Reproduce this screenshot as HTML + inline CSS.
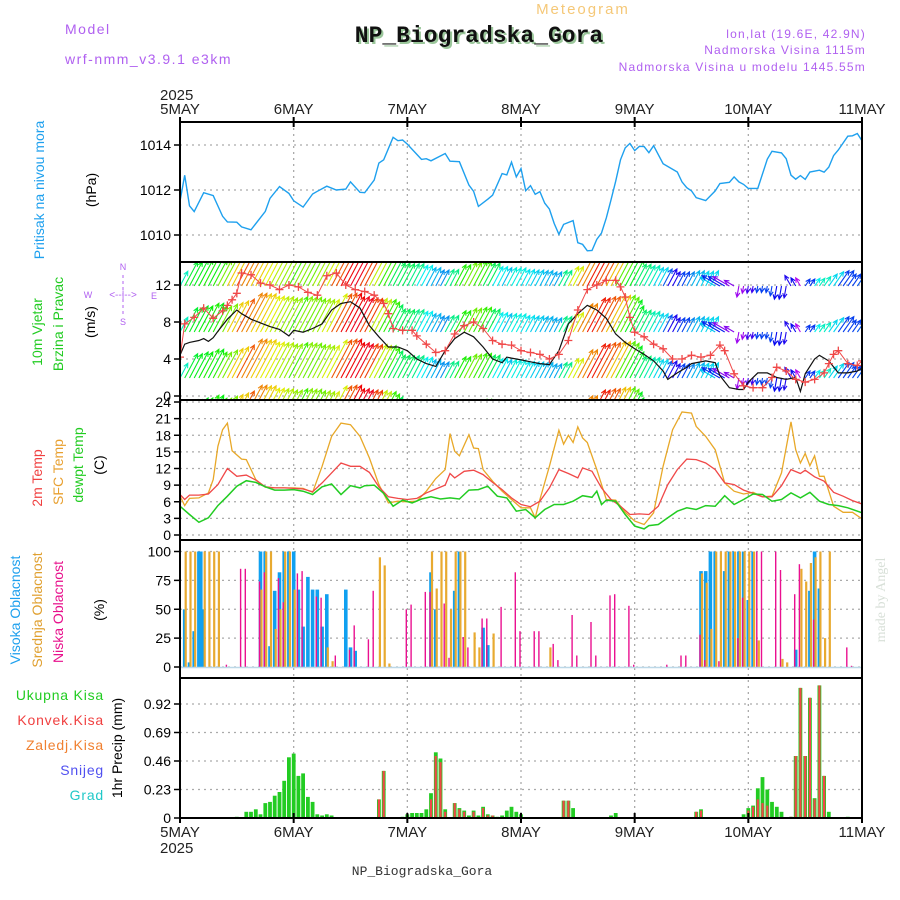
<!DOCTYPE html>
<html><head><meta charset="utf-8"><style>
body{margin:0;background:#fff;width:900px;height:900px;overflow:hidden}
svg{display:block}
text{font-family:"Liberation Sans",sans-serif}
</style></head><body>
<svg id="chart" width="900" height="900" viewBox="0 0 900 900" xmlns="http://www.w3.org/2000/svg">
<g>
<text x="65" y="34" font-size="14" fill="#b060f0" letter-spacing="1.5">Model</text>
<text x="65" y="64" font-size="14" fill="#b060f0" letter-spacing="1.5">wrf-nmm_v3.9.1 e3km</text>
<text x="583" y="14" font-size="15" fill="#f5c878" text-anchor="middle" letter-spacing="2">Meteogram</text>
<text x="481" y="44" font-size="23" font-weight="bold" fill="#9bc79b" text-anchor="middle" style="font-family:'Liberation Mono',monospace">NP_Biogradska_Gora</text>
<text x="479" y="42" font-size="23" font-weight="bold" fill="#111" text-anchor="middle" style="font-family:'Liberation Mono',monospace">NP_Biogradska_Gora</text>
<text x="866" y="38" font-size="12" fill="#b060f0" text-anchor="end" letter-spacing="1.2">lon,lat (19.6E, 42.9N)</text>
<text x="866" y="54" font-size="12" fill="#b060f0" text-anchor="end" letter-spacing="1.2">Nadmorska Visina 1115m</text>
<text x="866" y="71" font-size="12" fill="#b060f0" text-anchor="end" letter-spacing="1.2">Nadmorska Visina u modelu 1445.55m</text>
</g>
<g id="grid"></g>
<g id="marks"></g>
<g id="frames"></g>
<g id="labels">
<text transform="translate(44,190) rotate(-90)" font-size="14" fill="#1ea0ee" text-anchor="middle">Pritisak na nivou mora</text>
<text transform="translate(96,190) rotate(-90)" font-size="14" fill="#000" text-anchor="middle">(hPa)</text>
<text transform="translate(42,332) rotate(-90)" font-size="14" fill="#22cc22" text-anchor="middle">10m Vjetar</text>
<text transform="translate(63,324) rotate(-90)" font-size="14" fill="#22cc22" text-anchor="middle">Brzina i Pravac</text>
<text transform="translate(95,322) rotate(-90)" font-size="14" fill="#000" text-anchor="middle">(m/s)</text>
<g fill="#b060f0" font-size="9" text-anchor="middle">
<text x="123" y="270">N</text><text x="123" y="325">S</text><text x="88" y="298">W</text><text x="154" y="299">E</text>
<text x="123" y="298" font-size="10">&lt;--|--&gt;</text>
<line x1="123" y1="275" x2="123" y2="316" stroke="#b060f0" stroke-dasharray="3,3"/>
</g>
<text transform="translate(42,478) rotate(-90)" font-size="14" fill="#f04040" text-anchor="middle">2m Temp</text>
<text transform="translate(63,472) rotate(-90)" font-size="14" fill="#e8a030" text-anchor="middle">SFC Temp</text>
<text transform="translate(83,465) rotate(-90)" font-size="14" fill="#22cc22" text-anchor="middle">dewpt Temp</text>
<text transform="translate(104,465) rotate(-90)" font-size="14" fill="#000" text-anchor="middle">(C)</text>
<text transform="translate(20,610) rotate(-90)" font-size="14" fill="#1ea0ee" text-anchor="middle">Visoka Oblacnost</text>
<text transform="translate(42,610) rotate(-90)" font-size="14" fill="#e0a030" text-anchor="middle">Srednja Oblacnost</text>
<text transform="translate(63,612) rotate(-90)" font-size="14" fill="#e8108c" text-anchor="middle">Niska Oblacnost</text>
<text transform="translate(104,610) rotate(-90)" font-size="14" fill="#000" text-anchor="middle">(%)</text>
<text transform="translate(885,600) rotate(-90)" font-size="14" fill="#d8e0d8" text-anchor="middle" style="font-family:'Liberation Serif',serif">made by Angel</text>
<g font-size="14" text-anchor="end" letter-spacing="0.8">
<text x="104" y="700" fill="#22cc22">Ukupna Kisa</text>
<text x="104" y="725" fill="#f04040">Konvek.Kisa</text>
<text x="104" y="750" fill="#f08030">Zaledj.Kisa</text>
<text x="104" y="775" fill="#5050f0">Snijeg</text>
<text x="104" y="800" fill="#20c8c8">Grad</text>
</g>
<text transform="translate(122,748) rotate(-90)" font-size="14" fill="#000" text-anchor="middle">1hr Precip (mm)</text>
<text x="160" y="100" font-size="15" fill="#222">2025</text>
<text x="160" y="853" font-size="15" fill="#222">2025</text>
<text x="422" y="875" font-size="13" fill="#333" text-anchor="middle" style="font-family:'Liberation Mono',monospace">NP_Biogradska_Gora</text>
</g>
</svg>
<script>
// ---- data ----
const dayLabels=["5MAY","6MAY","7MAY","8MAY","9MAY","10MAY","11MAY"];
const pressTicks=[1010,1012,1014];
const windTicks=[0,4,8,12];
const tempTicks=[0,3,6,9,12,15,18,21,24];
const cloudTicks=[0,25,50,75,100];
const precipTicks=[0,0.23,0.46,0.69,0.92];

const pressHours=[0,1,2,3,5,7,9,10,12,13,15,18,19,21,23,24,26,28,29,31,33,35,36,38,39,41,42,43,45,46,47,48,51,52,53,56,57,59,61,62,63,65,66,68,69,70,71,72,73,74,75,76,77,78,79,80,81,83,84,85,86,87,88,89,90,91,92,93,94,95,96,97,98,99,100,102,105,106,107,108,109,111,113,114,116,117,118,119,120,122,124,125,127,128,129,130,131,132,133,135,136,137,138,139,141,142,143,144];
const pressVals=[1011.5,1012.66,1011.3,1011.04,1011.88,1011.75,1010.83,1010.58,1010.57,1010.36,1010.23,1011.05,1011.63,1012.15,1011.85,1011.52,1011.24,1011.82,1011.94,1012.17,1012.0,1012.04,1012.36,1011.9,1011.88,1012.44,1013.2,1013.34,1014.34,1014.19,1014.22,1014.04,1013.36,1013.39,1013.3,1013.62,1013.28,1013.26,1012.22,1011.94,1011.27,1011.59,1011.77,1012.73,1012.67,1013.24,1012.58,1012.95,1011.97,1012.19,1011.81,1011.93,1011.42,1011.15,1010.51,1010.03,1010.47,1010.64,1009.66,1009.58,1009.3,1009.31,1009.81,1010.09,1010.76,1011.56,1012.39,1013.34,1013.87,1014.07,1013.75,1013.94,1013.93,1013.66,1013.97,1013.17,1012.8,1012.36,1012.1,1011.96,1011.66,1011.53,1011.96,1012.29,1012.34,1012.58,1012.36,1012.25,1012.07,1012.07,1013.37,1013.72,1013.65,1013.39,1012.66,1012.48,1012.64,1012.47,1012.8,1012.88,1012.79,1013.02,1013.53,1013.78,1014.39,1014.41,1014.51,1014.19];

const windHours=[0,1,2,4,5,6,7,8,10,12,13,15,17,19,21,23,24,26,28,30,32,34,36,38,40,42,44,46,48,50,52,54,56,58,60,62,64,66,68,69,70,72,74,76,78,80,82,84,86,88,90,92,94,96,98,100,102,103,105,107,108,111,113,114,116,118,119,120,122,124,126,128,130,131,132,134,135,137,139,141,143,144];
const windSpeed=[4.4,5.6,5.8,6.0,6.2,5.9,6.3,7.0,8.3,9.3,8.9,8.3,7.9,7.5,7.2,6.5,7.1,6.9,7.3,7.8,9.3,10.0,10.2,9.5,7.6,6.4,5.3,5.3,4.9,4.0,3.5,3.2,4.9,6.2,6.9,6.4,5.3,4.0,3.6,4.2,4.1,3.9,3.7,3.5,3.4,4.9,7.8,8.9,9.8,9.3,8.4,6.7,5.8,5.1,4.5,3.8,2.7,1.8,2.5,3.1,3.5,3.8,3.6,2.2,0.9,0.7,0.7,1.5,2.5,2.5,2.0,1.8,2.0,0.5,2.4,4.0,4.4,3.8,2.5,2.5,2.7,3.0];
const gustHours=[0,1,3,5,7,9,10,11,12,13,15,17,19,21,23,25,27,29,31,33,35,37,39,41,43,44,45,47,49,50,52,54,56,58,60,62,64,66,68,70,72,74,76,78,80,82,84,86,88,90,92,93,94,95,96,98,100,102,104,106,108,110,112,114,115,117,119,121,123,125,126,128,130,132,134,136,137,138,139,141,143,144];
const gustVals=[4.2,7.8,8.5,9.5,8.4,9.2,9.8,10.4,11.1,13.3,13.1,12.2,12.0,11.5,12.0,11.8,11.2,10.9,13.0,13.3,12.0,11.5,11.3,10.9,10.0,8.9,7.3,7.1,7.1,6.5,5.6,4.7,4.9,6.7,7.6,8.0,7.3,6.0,5.6,5.5,4.9,4.7,4.5,4.0,4.5,6.0,9.3,11.5,12.0,12.5,12.5,11.8,10.7,8.5,6.9,6.4,5.6,5.1,4.0,4.0,4.4,4.2,4.4,5.5,4.9,2.4,1.1,0.9,0.9,2.0,3.1,2.7,1.8,1.5,1.8,2.5,3.5,4.5,4.9,3.5,3.3,3.8];
const dirHours=[0,113,118,129,132];
const dirAngles=[62,150,-100,120,55];

const t2mHours=[0,1,2,4,6,8,10,12,14,16,18,20,22,24,26,28,30,32,34,36,38,40,42,44,46,48,50,52,54,56,57,58,60,62,64,66,68,70,72,74,76,78,80,82,84,85,87,89,91,93,95,97,99,101,103,105,107,109,111,113,115,117,119,121,123,125,127,129,131,132,134,136,138,140,142,144];
const t2mVals=[7.3,6.4,7.2,7.2,7.4,9.1,12.0,10.6,10.8,9.9,8.7,8.5,8.5,8.4,8.3,7.8,9.4,11.2,13.0,12.4,12.4,11.3,8.7,6.9,6.6,6.4,6.6,7.6,8.3,9.0,11.1,10.3,11.5,11.7,10.9,9.5,8.2,6.7,5.5,5.1,6.1,8.5,11.8,11.1,10.3,12.1,11.5,8.5,6.4,5.2,3.7,3.8,3.7,5.2,9.1,11.8,13.7,13.6,13.0,11.8,9.4,9.1,8.1,7.5,6.9,6.9,8.9,11.8,11.1,11.7,10.5,9.7,7.7,7.0,6.2,5.6];
const tsfcHours=[0,1,2,4,6,7,8,9,10,11,13,14,16,18,20,22,24,26,28,30,32,34,36,38,40,42,44,46,48,50,52,54,56,57,58,59,61,62,63,64,66,68,70,72,74,75,76,78,80,81,82,83,84,85,86,88,90,92,94,96,98,100,102,104,106,108,109,111,113,115,117,119,121,123,125,127,129,130,131,132,133,134,135,136,138,140,142,144];
const tsfcVals=[7.0,5.3,6.6,6.7,7.6,10.0,16.0,19.0,20.2,15.2,13.7,13.6,10.0,8.6,8.5,8.5,8.5,8.4,7.7,12.4,17.8,20.2,19.9,17.8,13.9,9.1,5.8,6.1,6.0,6.1,7.9,10.2,11.8,18.3,15.1,14.3,18.1,15.7,15.6,11.8,9.7,7.9,6.4,4.9,4.9,3.1,6.4,12.4,18.9,16.4,18.0,16.7,19.5,17.5,16.7,11.8,6.4,6.3,4.1,2.5,1.9,4.0,12.4,19.0,22.2,22.0,19.6,17.8,15.4,9.4,7.9,7.4,7.7,6.9,7.0,11.2,20.4,15.4,13.0,14.7,12.5,14.3,10.6,10.6,5.2,4.1,4.1,2.9];
const tdewHours=[0,2,4,6,8,10,12,14,16,18,20,22,24,26,28,30,32,34,36,38,39,41,43,45,47,49,51,53,55,57,59,61,63,65,67,69,71,73,75,77,79,81,83,85,87,88,89,90,92,94,96,98,99,101,103,105,107,109,111,113,115,117,119,121,123,125,127,129,131,133,135,137,139,141,144];
const tdewVals=[5.2,3.7,2.3,3.1,5.3,7.0,8.8,9.8,9.5,8.7,8.1,8.1,8.2,7.9,7.3,8.7,9.2,7.3,8.9,8.5,8.9,9.0,7.5,5.2,6.3,5.8,6.5,6.9,6.5,6.7,6.5,8.1,8.2,8.8,7.0,6.7,4.3,4.6,3.1,4.6,5.5,5.5,6.1,7.1,6.8,7.9,5.5,6.3,6.1,3.7,1.6,1.1,1.7,1.9,3.1,4.3,4.9,4.6,5.3,5.2,7.1,5.5,6.4,7.4,7.3,6.1,6.4,7.6,6.7,7.7,6.1,5.5,5.3,4.9,4.0];

const cloudHighHours=[1,2,3,4,4.4,5,17,18,19,20,21,22,23,24,25,26,27,28,29,30,31,35,36,37,53,54,58,59,64,65,110,111,112,113,115,116,117,118,119,120,121,130,133,134,135];
const cloudHighVals=[50,4,31,100,100,50,100,100,18,66,82,100,100,100,67,35,78,67,67,35,63,67,17,14,82,50,66,100,34,19,83,83,100,100,83,100,100,100,100,58,100,15,66,100,68];
const cloudMidHours=[1,2,3,5,6,7,8,17,18,19,20,21,22,23,24,31,32,42,43,44,53,54,55,56,57,58,59,60,62,63,66,78,110,111,112,113,114,115,116,117,118,119,120,121,122,127,128,131,132,133,134,135,136,137];
const cloudMidVals=[100,100,100,100,100,100,100,67,100,100,33,50,100,100,67,17,5,95,88,3,100,68,100,100,50,100,100,100,30,17,29,17,81,73,33,100,100,100,100,100,100,100,100,100,23,7,4,85,74,90,95,100,25,100];
const cloudLowHours=[10,13,14,17,18,21,22,25,26,29,30,33,36,37,40,41,48,49,52,53,56,57,60,61,64,65,68,71,72,75,76,79,80,83,84,87,88,91,92,95,96,103,106,107,110,111,114,118,119,122,123,126,127,130,131,134,141,142];
const cloudLowVals=[2,85,85,74,82,77,56,81,83,61,60,10,15,36,24,66,50,54,65,65,55,8,26,17,42,42,52,82,31,31,31,20,6,45,10,39,10,62,63,53,2,2,10,10,28,6,5,25,60,100,100,100,84,63,89,41,17,1];

const precipHours=[12,14,15,16,17,18,19,20,21,22,23,24,25,26,27,28,29,30,31,32,42,43,47,48,49,50,51,52,53,54,55,56,58,59,60,61,62,63,64,65,66,67,68,69,70,71,72,81,82,83,91,92,109,110,119,120,121,122,123,124,125,126,127,129,130,131,132,133,134,135,136,137,141];
const precipTotal=[0.01,0.05,0.05,0.07,0.03,0.12,0.13,0.18,0.21,0.30,0.49,0.52,0.34,0.36,0.17,0.13,0.03,0.02,0.03,0.02,0.15,0.38,0.01,0.03,0.04,0.04,0.04,0.07,0.20,0.53,0.48,0.07,0.12,0.08,0.06,0.02,0.06,0.02,0.09,0.03,0.02,0.01,0.02,0.06,0.09,0.05,0.03,0.14,0.14,0.08,0.02,0.04,0.05,0.07,0.03,0.08,0.10,0.24,0.33,0.23,0.13,0.09,0.05,0.01,0.50,1.05,0.50,0.97,0.16,1.07,0.34,0.05,0.01];
const precipConv=[0,0,0,0,0,0,0,0,0,0,0,0,0,0,0,0,0,0,0,0,0.15,0.38,0,0,0,0,0,0,0.15,0.50,0.45,0.05,0.12,0.07,0.05,0,0.05,0,0.08,0.02,0.02,0,0,0,0,0,0,0.14,0.14,0,0,0,0.05,0.06,0,0.06,0.09,0.15,0.12,0.10,0,0,0,0.01,0.50,1.05,0.50,0.97,0.15,1.07,0.34,0,0];

// ---- geometry ----
const X0=180,X1=862;
const P={press:[122,262],wind:[262,400],temp:[400,540],cloud:[540,678],precip:[678,818]};
const xS=h=>X0+(X1-X0)*h/144;
const lin=(d0,d1,r0,r1)=>v=>r0+(v-d0)*(r1-r0)/(d1-d0);
const yPress=lin(1010,1014,235,145);
const yWind=lin(0,12,396,285);
const yTemp=lin(0,24,535,402);
const yCloud=lin(0,100,667,551.5);
const yPrecip=lin(0,0.92,818,704);
const NS="http://www.w3.org/2000/svg";
const grid=document.getElementById('grid'),marks=document.getElementById('marks'),frames=document.getElementById('frames'),labels=document.getElementById('labels');
function mk(tag,attrs,parent){const e=document.createElementNS(NS,tag);for(const k in attrs)e.setAttribute(k,attrs[k]);parent.appendChild(e);return e;}

// vertical day grid + day labels
dayLabels.forEach((d,i)=>{
  const x=xS(i*24);
  if(i>0&&i<6){const l=mk('line',{x1:x,y1:122,x2:x,y2:818,stroke:'#aaa','stroke-dasharray':'2,4','stroke-width':1.3},grid);
    
    }
  const t=mk('text',{x:x,y:114,'font-size':15,fill:'#222','text-anchor':'middle'},labels);t.textContent=d;
  
  
  const b=mk('text',{x:x,y:837,'font-size':15,fill:'#222','text-anchor':'middle'},labels);b.textContent=d;
  
  
  for(const yy of [122,818]){const tk=mk('line',{x1:x,y1:yy-5,x2:x,y2:yy+5,stroke:'#000','stroke-width':2},frames);
    
    }
});
function yAxis(ticks,ys,fmt,name,showGrid){
  ticks.forEach(v=>{
    const y=ys(v);
    if(showGrid){const g=mk('line',{x1:X0,y1:y,x2:X1,y2:y,stroke:'#aaa','stroke-dasharray':'2,4','stroke-width':1.3},grid);
      
      }
    const tk=mk('line',{x1:X0-6,y1:y,x2:X0,y2:y,stroke:'#000','stroke-width':1.5},frames);
    
    
    const t=mk('text',{x:X0-9,y:y+5,'font-size':14,fill:'#000','text-anchor':'end'},labels);t.textContent=fmt(v);
    
    
  });
}
yAxis(pressTicks,yPress,v=>v,'pressure',true);
yAxis(windTicks,yWind,v=>v,'wind',true);
yAxis(tempTicks,yTemp,v=>v,'temp',true);
yAxis(cloudTicks,yCloud,v=>v,'cloud',true);
yAxis(precipTicks,yPrecip,v=>v,'precip',true);

// clip paths
const defs=mk('defs',{},marks);
Object.keys(P).forEach(k=>{const c=mk('clipPath',{id:'clip-'+k},defs);mk('rect',{x:X0,y:P[k][0],width:X1-X0,height:P[k][1]-P[k][0]},c);});
function line(hours,vals,ys,color,name,clip,w){
  const d=hours.map((h,i)=>(i?'L':'M')+xS(h).toFixed(1)+','+ys(vals[i]).toFixed(1)).join('');
  const p=mk('path',{d:d,fill:'none',stroke:color,'stroke-width':w||1.3,'clip-path':'url(#clip-'+clip+')'},marks);
  
  
}
line(pressHours,pressVals,yPress,'#1ea0ee','pressure-line','press',1.4);

// wind arrows
function nearest(hs,vs,h){let b=0;for(let i=0;i<hs.length;i++){if(Math.abs(hs[i]-h)<Math.abs(hs[b]-h))b=i;}return vs[b];}
function stepVal(hs,vs,h){let v=vs[0];for(let i=0;i<hs.length;i++)if(hs[i]<=h)v=vs[i];return v;}
const rowBases=[240,286,332,378,424];
const arrowG=mk('g',{'clip-path':'url(#clip-wind)'},marks);


for(let h=0;h<=144;h++){
  const s=nearest(windHours,windSpeed,h),g=nearest(gustHours,gustVals,h);
  const ang=stepVal(dirHours,dirAngles,h)*Math.PI/180;
  const len=4+3.0*g;
  let hue=(300-30*s);hue=((hue%360)+360)%360;
  const col='hsl('+hue+',95%,48%)';
  rowBases.forEach(yb=>{
    const x=xS(h),x2=x+len*Math.cos(ang),y2=yb-len*Math.sin(ang);
    const a1=ang+Math.PI-0.45,a2=ang+Math.PI+0.45;
    const d='M'+x.toFixed(1)+','+yb+'L'+x2.toFixed(1)+','+y2.toFixed(1)+'M'+(x2+5*Math.cos(a1)).toFixed(1)+','+(y2-5*Math.sin(a1)).toFixed(1)+'L'+x2.toFixed(1)+','+y2.toFixed(1)+'L'+(x2+5*Math.cos(a2)).toFixed(1)+','+(y2-5*Math.sin(a2)).toFixed(1);
    const p=mk('path',{d:d,fill:'none',stroke:col,'stroke-width':1.1},arrowG);
    
    
  });
}
line(windHours,windSpeed,yWind,'#111','wind-speed-line','wind',1.2);
line(gustHours,gustVals,yWind,'#f04848','wind-gust-line','wind',1);
gustHours.forEach((h,i)=>{
  const x=xS(h),y=yWind(gustVals[i]);
  const p=mk('path',{d:'M'+(x-4)+','+y+'h8M'+x+','+(y-4)+'v8',stroke:'#f04848','stroke-width':1.3,'clip-path':'url(#clip-wind)'},marks);
  
  
});

// temperatures
line(tsfcHours,tsfcVals,yTemp,'#e8a828','sfc-temp-line','temp',1.3);
line(t2mHours,t2mVals,yTemp,'#f04848','temp-2m-line','temp',1.3);
line(tdewHours,tdewVals,yTemp,'#22cc22','dewpt-temp-line','temp',1.5);

// clouds
function bars(hours,vals,ys,color,w,name,off){
  hours.forEach((h,i)=>{
    const x=xS(h)+(off||0),y=ys(vals[i]),y0=ys(0);
    const r=mk('rect',{x:(x-w/2).toFixed(1),y:y.toFixed(1),width:w,height:Math.max(0.5,y0-y).toFixed(1),fill:color},marks);
    
    
  });
}
bars(cloudHighHours,cloudHighVals,yCloud,'#10a0f0',3.6,'cloud-high-bar',0);
bars(cloudMidHours,cloudMidVals,yCloud,'#e8aa30',2.2,'cloud-mid-bar',1);
bars(cloudLowHours,cloudLowVals,yCloud,'#ea1090',1.4,'cloud-low-bar',-1);
mk('line',{x1:X0,y1:yCloud(0)+0.5,x2:X1,y2:yCloud(0)+0.5,stroke:'#bcd8e8','stroke-width':1.5},marks);

// precip
bars(precipHours,precipTotal,yPrecip,'#22cc22',3.8,'precip-total-bar',0);
bars(precipHours,precipConv,yPrecip,'#f04848',2.2,'precip-convective-bar',0);

// frames
[122,262,400,540,678,818].forEach(y=>{const l=mk('line',{x1:X0-1,y1:y,x2:X1+1,y2:y,stroke:'#000','stroke-width':2},frames);
  
  });
[X0,X1].forEach(x=>{const l=mk('line',{x1:x,y1:121,x2:x,y2:819,stroke:'#000','stroke-width':2},frames);
  
  });
</script>
</body></html>
